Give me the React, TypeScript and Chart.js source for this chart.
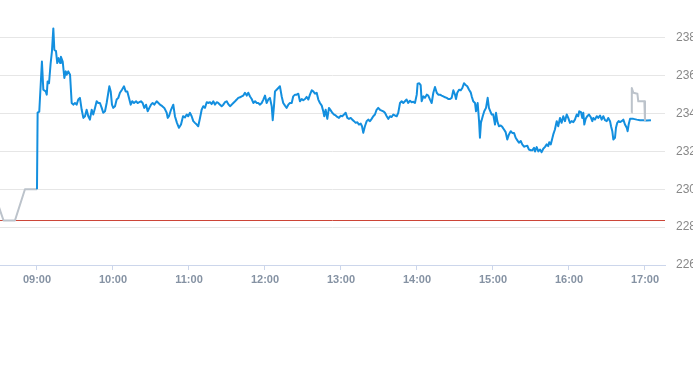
import React, { useEffect, useRef } from "react";
import { Chart, registerables } from "chart.js";

Chart.register(...registerables);

// minutes after 09:00, price
const preMarket: [number, number][] = [
  [-32, 229.45], [-26.4, 228.35], [-17.4, 228.35], [-9.5, 230.0], [0, 230.0],
];

const session: [number, number][] = [
  [0,230.0],[0.5,234.05],[1.8,234.1],[3.9,236.75],[5.0,235.26],[6.9,235.17],[7.7,235.0],[8.4,235.7],[9.5,235.6],[10.8,236.67],[11.8,237.28],[12.9,238.5],[13.7,237.37],[15.0,237.3],[16.0,236.67],[17.1,236.93],[18.2,236.67],[18.9,237.0],[20.3,236.75],[21.6,235.88],[22.7,236.23],[23.4,236.05],[24.7,236.23],[26.1,236.05],[27.4,234.56],[28.7,234.47],[30.0,234.56],[31.3,234.47],[32.6,234.74],[33.9,234.83],[35.3,234.2],[36.6,233.77],[37.9,233.86],[39.2,234.2],[40.5,233.86],[41.8,233.68],[43.2,234.2],[44.4,233.95],[45.8,234.3],[47.1,234.65],[48.4,234.56],[49.7,234.56],[51.1,234.3],[52.3,234.04],[53.7,234.12],[55.0,234.56],[56.3,235.1],[57.1,235.44],[58.2,235.17],[59.2,234.47],[60.2,234.3],[61.6,234.39],[62.9,234.74],[64.2,234.83],[65.5,235.1],[67.1,235.26],[68.7,235.44],[70.0,235.17],[71.3,235.17],[72.6,234.83],[74.0,234.47],[75.2,234.65],[76.6,234.56],[78.2,234.65],[79.5,234.56],[80.8,234.6],[82.1,234.65],[83.4,234.56],[84.7,234.3],[86.1,234.47],[87.4,234.12],[88.7,234.3],[90.0,234.47],[91.3,234.56],[92.6,234.47],[94.5,234.65],[95.3,234.6],[97.1,234.47],[98.9,234.39],[100.5,234.3],[102.4,234.04],[103.2,233.77],[104.2,233.86],[105.8,234.2],[107.6,234.47],[108.9,233.86],[110.5,233.51],[112.1,233.25],[113.7,233.42],[115.3,233.86],[116.8,233.8],[118.2,233.95],[119.4,233.86],[120.8,234.04],[122.1,233.86],[123.4,233.6],[124.7,233.51],[126.1,233.42],[127.3,233.33],[128.7,233.77],[130.0,234.2],[131.3,234.39],[132.6,234.3],[134.0,234.6],[135.2,234.56],[136.6,234.6],[137.9,234.5],[139.2,234.65],[140.5,234.47],[141.9,234.6],[143.1,234.56],[144.5,234.47],[145.8,234.39],[147.1,234.47],[148.4,234.6],[149.8,234.65],[151.0,234.5],[152.4,234.39],[153.7,234.47],[155.0,234.56],[156.4,234.65],[157.7,234.74],[158.9,234.83],[160.3,234.86],[161.6,234.91],[162.9,234.95],[164.2,235.1],[165.6,234.95],[166.8,235.1],[168.2,234.9],[169.5,234.77],[170.8,234.56],[172.2,234.65],[173.5,234.56],[174.7,234.56],[176.1,234.47],[177.4,234.56],[178.7,234.74],[180.0,234.95],[181.3,234.56],[182.6,234.74],[183.9,234.83],[185.3,234.39],[186.1,233.65],[187.1,234.39],[187.9,235.17],[189.2,235.26],[190.5,235.35],[191.8,235.44],[193.2,234.9],[194.4,234.56],[195.8,234.42],[197.1,234.3],[198.4,234.47],[199.7,234.56],[201.1,234.56],[202.3,234.91],[203.7,235.0],[205.0,235.0],[206.3,235.05],[207.6,234.65],[209.0,234.77],[210.2,234.7],[211.6,234.77],[212.9,234.88],[214.2,234.74],[215.5,235.0],[216.9,235.23],[218.1,235.17],[219.5,235.05],[220.8,235.1],[222.1,234.74],[223.4,234.56],[224.8,234.42],[226.0,234.12],[226.8,233.86],[227.9,234.2],[229.2,233.72],[230.5,234.3],[231.9,234.17],[233.1,234.04],[234.5,233.95],[235.8,233.9],[237.1,233.82],[238.4,233.77],[239.7,233.88],[241.0,233.86],[242.4,233.95],[243.7,234.04],[245.0,233.77],[246.3,233.72],[247.7,233.77],[248.9,233.68],[250.3,233.6],[251.6,233.51],[252.9,233.54],[254.2,233.42],[255.6,233.47],[256.6,233.33],[257.6,232.98],[258.9,233.33],[260.3,233.6],[261.5,233.68],[262.9,233.6],[264.2,233.72],[265.5,233.86],[266.8,233.95],[268.1,234.2],[269.4,234.3],[270.8,234.2],[272.1,234.16],[273.4,234.12],[274.7,234.04],[276.1,233.86],[277.3,233.72],[278.7,233.86],[280.0,233.82],[281.3,233.95],[282.6,233.9],[284.0,233.86],[285.2,234.04],[286.6,234.56],[287.9,234.65],[289.2,234.56],[290.5,234.65],[291.8,234.74],[293.1,234.56],[294.5,234.68],[295.8,234.6],[297.1,234.62],[298.4,234.56],[299.8,235.0],[300.5,235.58],[301.8,235.6],[302.9,235.5],[303.7,234.65],[305.0,234.91],[306.3,234.83],[307.7,235.0],[308.9,234.95],[310.3,234.74],[311.6,234.56],[312.9,235.1],[314.2,235.4],[315.6,235.1],[316.8,235.0],[318.2,235.0],[319.5,234.95],[320.8,234.91],[322.2,234.86],[323.5,234.83],[324.7,234.77],[326.1,234.77],[327.4,234.83],[328.7,235.23],[330.0,235.0],[330.8,234.77],[331.8,235.1],[333.2,235.26],[334.5,235.23],[335.8,235.35],[337.1,235.6],[338.4,235.51],[339.7,235.44],[341.1,235.26],[342.4,235.12],[343.2,234.91],[344.4,234.65],[345.8,234.56],[346.6,234.12],[347.9,234.56],[349.0,233.6],[349.7,232.72],[350.5,233.51],[351.9,233.86],[353.1,234.12],[354.5,234.3],[355.8,234.83],[356.8,234.3],[357.9,234.12],[359.0,233.95],[360.2,233.95],[361.6,233.42],[362.4,234.04],[363.4,233.6],[364.7,233.33],[366.1,233.37],[367.3,233.3],[368.7,233.16],[370.0,233.02],[371.3,232.63],[372.6,232.9],[374.0,233.07],[375.2,232.98],[376.6,232.98],[377.9,232.72],[379.1,232.6],[380.5,232.46],[381.9,232.55],[383.1,232.37],[384.5,232.25],[385.8,232.28],[387.1,232.3],[388.4,232.1],[389.8,232.06],[391.0,232.06],[392.4,232.19],[393.2,232.0],[394.5,232.23],[395.8,232.0],[397.1,232.1],[398.4,231.96],[399.7,232.14],[401.1,232.24],[402.4,232.37],[403.6,232.28],[404.4,232.49],[405.6,232.37],[406.6,232.63],[407.6,232.9],[408.9,233.16],[410.3,233.6],[411.5,233.33],[412.9,233.77],[414.2,233.51],[415.5,233.86],[416.8,233.6],[418.2,233.95],[419.4,233.77],[420.8,233.51],[422.1,233.6],[423.4,233.55],[424.7,233.68],[426.1,233.95],[427.3,233.86],[428.1,234.12],[429.5,234.07],[430.5,233.77],[431.3,234.04],[432.1,233.42],[433.2,233.72],[434.4,233.86],[435.8,233.95],[437.1,233.82],[438.4,233.6],[439.2,233.77],[440.5,233.68],[441.9,233.86],[443.1,233.77],[444.5,233.9],[445.8,233.68],[447.1,233.86],[448.4,233.65],[449.8,233.6],[451.0,233.77],[452.4,233.6],[453.2,233.33],[454.2,233.07],[455.0,232.63],[456.3,232.72],[457.1,233.25],[458.1,233.51],[459.2,233.6],[460.3,233.55],[461.6,233.6],[462.9,233.68],[464.2,233.42],[465.6,233.25],[466.3,233.07],[467.1,233.42],[468.2,233.72],[470.8,233.72],[473.5,233.68],[476.1,233.65],[478.7,233.65],[481.3,233.63],[484.7,233.65],
];

const afterHours: [number, number][] = [
  [469.5, 234.04], [469.6, 235.35], [470.8, 235.1], [474.0, 235.05], [474.7, 234.65], [479.5, 234.65], [480.0, 233.65],
];

const previousClose = 228.35;
const xMin = -29.2;
const xMax = 495.8;
const hourTicks = [0, 60, 120, 180, 240, 300, 360, 420, 480];
const yMin = 226;
const yMax = 240;
const yStep = 2;

const toPts = (arr: [number, number][]) => arr.map(([x, y]) => ({ x, y }));
const fmt = (m: number) => {
  const t = 540 + m;
  const h = Math.floor(t / 60);
  const mm = Math.round(t % 60);
  return String(h).padStart(2, "0") + ":" + String(mm).padStart(2, "0");
};

export default function App() {
  const ref = useRef<HTMLCanvasElement>(null);
  useEffect(() => {
    const canvas = ref.current!;
    const chart = new Chart(canvas, {
      type: "line",
      data: {
        datasets: [
          { data: toPts(afterHours), borderColor: "#bcc3cb", borderWidth: 2 },
          { data: toPts(session), borderColor: "#138fdf", borderWidth: 2 },
          { data: toPts(preMarket), borderColor: "#bcc3cb", borderWidth: 2 },
          {
            data: [{ x: xMin, y: previousClose }, { x: xMax, y: previousClose }],
            borderColor: "#cc4436",
            borderWidth: 1,
          },
        ] as any,
      },
      options: {
        animation: false,
        responsive: false,
        devicePixelRatio: 1,
        layout: { padding: 0 },
        elements: {
          point: { radius: 0, hoverRadius: 0 },
          line: { tension: 0, borderJoinStyle: "round", fill: false },
        },
        plugins: { legend: { display: false }, tooltip: { enabled: false } },
        scales: {
          x: {
            type: "linear",
            min: xMin,
            max: xMax,
            afterBuildTicks: (s: any) => {
              s.ticks = hourTicks.map((v) => ({ value: v }));
            },
            afterFit: (s: any) => {
              s.height = 30;
              s.paddingLeft = 0;
              s.paddingRight = 0;
            },
            grid: { drawOnChartArea: false, drawTicks: true, tickLength: 5, color: "#ccd6eb" },
            border: { display: true, color: "#ccd6eb" },
            ticks: {
              padding: 3,
              autoSkip: false,
              maxRotation: 0,
              color: "#8592a3",
              font: { family: "'Liberation Sans', Arial, sans-serif", size: 11, weight: "bold" },
              callback: (v: any) => fmt(Number(v)),
            },
          },
          y: {
            position: "right",
            min: yMin,
            max: yMax,
            afterFit: (s: any) => {
              s.width = 35;
              s.paddingTop = 0;
              s.paddingBottom = 0;
            },
            grid: { drawTicks: false, color: "#e6e6e6", lineWidth: 1 },
            border: { display: false },
            ticks: {
              stepSize: yStep,
              padding: 11,
              color: "#888888",
              font: { family: "'Liberation Sans', Arial, sans-serif", size: 12 },
              callback: (v: any) => (Number(v) >= yMax ? null : String(v)),
            },
          },
        },
      } as any,
    });
    return () => chart.destroy();
  }, []);
  return (
    <div style={{ position: "absolute", left: 0, top: 0, width: 693, height: 365, overflow: "hidden", background: "#fff" }}>
      <canvas ref={ref} width={700} height={295} style={{ display: "block", width: 700, height: 295 }} />
    </div>
  );
}
